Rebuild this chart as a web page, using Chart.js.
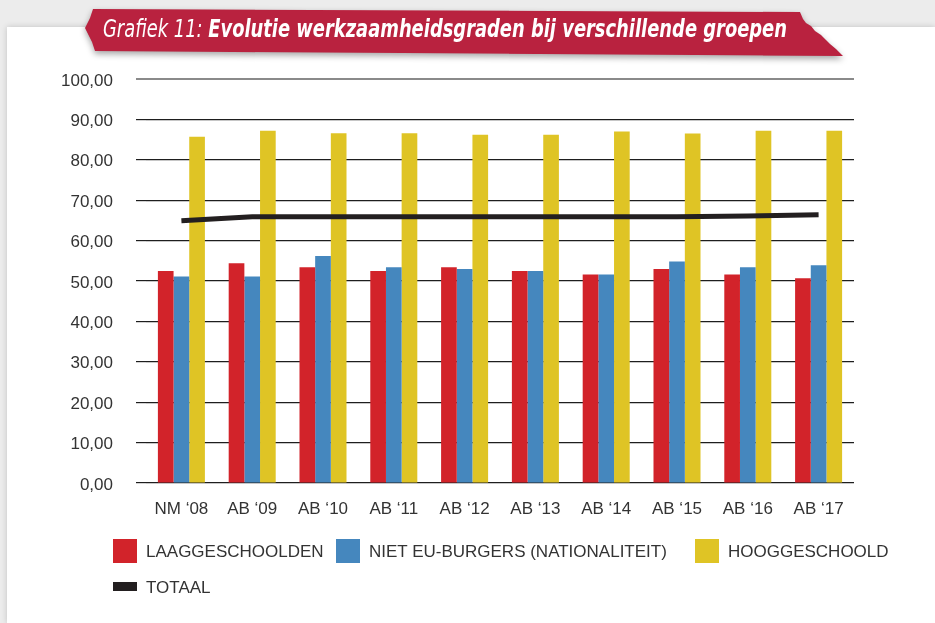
<!DOCTYPE html>
<html><head><meta charset="utf-8">
<script src="https://cdn.jsdelivr.net/npm/chart.js@4/dist/chart.umd.min.js"></script>
<style>
html,body{margin:0;padding:0;width:935px;height:623px;overflow:hidden;background:#ececec;}
#card{position:absolute;left:7px;top:27px;width:928px;height:596px;background:#fff;box-shadow:0 0 6px rgba(0,0,0,0.18);}
#bannerWrap{position:absolute;left:0;top:0;width:935px;height:70px;filter:drop-shadow(0 3px 3px rgba(0,0,0,0.35));}
#banner{position:absolute;left:0;top:0;width:935px;height:70px;background:#b9223f;
clip-path:polygon(93px 9px,800px 12px,803px 19px,806px 23px,811px 26px,815px 31px,821px 35px,826px 40px,830px 44px,836px 49px,843px 56px,95px 51px,92px 42px,85px 28px,90px 18px);}
#title{position:absolute;left:103px;top:15px;color:#fff;font-family:'Liberation Sans Narrow','DejaVu Sans Condensed','Liberation Sans',sans-serif;font-size:24px;line-height:28px;white-space:nowrap;transform-origin:0 0;}
#title .a{font-style:italic;font-weight:300;}
#title .b{font-style:italic;font-weight:700;}
#c{position:absolute;left:0;top:0;}
.leg{position:absolute;height:24px;white-space:nowrap;font:17px 'Liberation Sans',sans-serif;color:#333;}
.leg .sw{position:absolute;left:0;}
.leg .tx{position:absolute;left:33px;top:1px;line-height:24px;}
</style></head>
<body>
<div id="card"></div>
<div id="bannerWrap"><div id="banner"></div></div>
<div id="title"><span class="a">Grafiek 11: </span><span class="b">Evolutie werkzaamheidsgraden bij verschillende groepen</span></div>
<canvas id="c" width="935" height="623"></canvas>
<div id="legend"></div>
<script>
const categories = ['NM \u201808','AB \u201809','AB \u201810','AB \u201811','AB \u201812','AB \u201813','AB \u201814','AB \u201815','AB \u201816','AB \u201817'];
const laaggeschoolden = [52.5,54.4,53.4,52.5,53.4,52.5,51.6,53.0,51.6,50.7];
const nietEUBurgers  = [51.1,51.1,56.2,53.4,53.0,52.5,51.6,54.8,53.4,53.9];
const hooggeschoold  = [85.7,87.2,86.6,86.6,86.2,86.2,87.0,86.5,87.2,87.2];
const totaal         = [64.9,65.9,65.9,65.9,65.9,65.9,65.9,65.9,66.1,66.4];
const seriesNames = ['LAAGGESCHOOLDEN','NIET EU-BURGERS (NATIONALITEIT)','HOOGGESCHOOLD','TOTAAL'];
const yMin = 0, yMax = 100, yStep = 10;

const colors = ['#d2232a','#4587be','#dfc425','#231f20'];
const tickFont = {family:"'Liberation Sans', sans-serif", size:17};

const chart = new Chart(document.getElementById('c'), {
  data: {
    labels: categories,
    datasets: [
      {type:'bar', label:seriesNames[0], data:laaggeschoolden, backgroundColor:colors[0], order:1},
      {type:'bar', label:seriesNames[1], data:nietEUBurgers, backgroundColor:colors[1], order:1},
      {type:'bar', label:seriesNames[2], data:hooggeschoold, backgroundColor:colors[2], order:1},
      {type:'line', label:seriesNames[3], data:totaal, borderColor:colors[3], backgroundColor:colors[3], borderWidth:5, pointRadius:0, tension:0, fill:false, order:0, borderCapStyle:'butt'}
    ]
  },
  options: {
    responsive:false, animation:false, devicePixelRatio:1,
    datasets:{bar:{categoryPercentage:0.664, barPercentage:1.0, borderWidth:0}},
    layout:{padding:{top:79,right:81,left:0,bottom:0}},
    plugins:{legend:{display:false}, title:{display:false}, tooltip:{enabled:false}},
    scales:{
      x:{
        grid:{display:false}, border:{display:false},
        ticks:{font:tickFont, color:'#333', padding:8, maxRotation:0, autoSkip:false},
        afterFit:(s)=>{s.height=140;}
      },
      y:{
        min:yMin, max:yMax,
        border:{display:false},
        grid:{
          color:(ctx)=> (ctx.tick && ctx.tick.value===yMax) ? '#8a8a8a' : '#1e1e1e',
          lineWidth:(ctx)=> (ctx.tick && ctx.tick.value===yMax) ? 2 : 1.2,
          tickLength:10, drawTicks:true
        },
        ticks:{stepSize:yStep, font:tickFont, color:'#333', padding:23, labelOffset:2,
          callback:(v)=>Number(v).toFixed(2).replace('.',',')},
        afterFit:(s)=>{s.width=146;}
      }
    }
  }
});

// HTML legend built from the chart's datasets
const legPos = [[113,539],[336,539],[695,539],[113,575]];
const legend = document.getElementById('legend');
chart.data.datasets.forEach((ds,i)=>{
  const d = document.createElement('div');
  d.className='leg';
  d.style.left=legPos[i][0]+'px'; d.style.top=legPos[i][1]+'px';
  const sw=document.createElement('div'); sw.className='sw';
  sw.style.background = ds.type==='line' ? ds.borderColor : ds.backgroundColor;
  sw.style.width='24px';
  if(ds.type==='line'){ sw.style.height='9px'; sw.style.top='7px'; }
  else { sw.style.height='24px'; sw.style.top='0px'; }
  const tx=document.createElement('div'); tx.className='tx'; tx.textContent=ds.label;
  d.appendChild(sw); d.appendChild(tx); legend.appendChild(d);
});

// fit title width
const t=document.getElementById('title');
const w=t.getBoundingClientRect().width;
t.style.transform='scaleX('+(684/w)+')';
</script>
</body></html>
